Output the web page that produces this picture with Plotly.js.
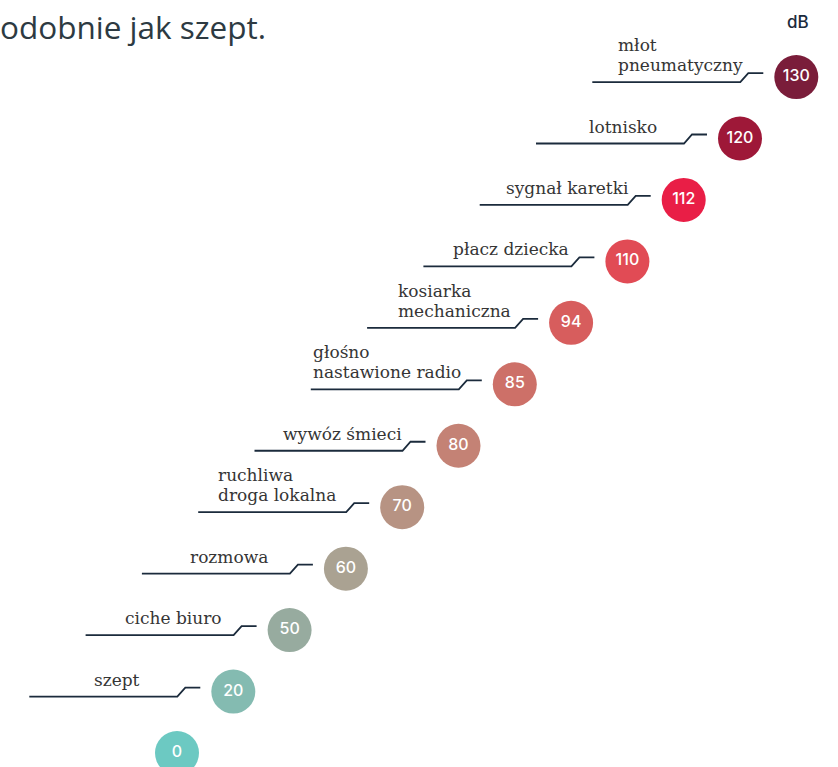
<!DOCTYPE html>
<html>
<head>
<meta charset="utf-8">
<script src="https://cdn.plot.ly/plotly-3.0.1.min.js"></script>
<style>html,body{margin:0;padding:0;background:#fff;}#chart{width:838px;height:767px;}</style>
</head>
<body>
<div id="chart"></div>
<script>
// ---- data ----
const values = [0, 20, 50, 60, 70, 80, 85, 94, 110, 112, 120, 130];
const labels = [
  '', 'szept', 'ciche biuro', 'rozmowa', 'ruchliwa<br>droga lokalna', 'wywóz śmieci',
  'głośno<br>nastawione radio', 'kosiarka<br>mechaniczna', 'płacz dziecka',
  'sygnał karetki', 'lotnisko', 'młot<br>pneumatyczny'
];
const colors = [
  '#6cc9c2', '#84bbb1', '#97ab9f', '#aaa292', '#b79383', '#c48275',
  '#cd7068', '#d75d5d', '#e14b55', '#e91e46', '#9e1838', '#7a1d3a'
];
const unit = 'dB';
const titleText = 'odobnie jak szept.';

// ---- geometry / style ----
const W = 838, H = 767;
const sx = 56.3, sy = 61.45;      // px per step
const x0px = 177, y0px = 753;     // pixel position of first circle
const idx = values.map((v, i) => i);

const labelFont = {family: 'DejaVu Serif', size: 17, color: '#353535'};
const lineGap = 20;
const labelNudgePx = {4: -9, 6: -11};   // small horizontal tweaks for wrapped labels

// leader line offsets (pixels, relative to circle centre; y positive = up)
const L = {xa: -204, xb: -56, xc: -48, xd: -33, ylo: -5, yhi: 4};

const lx = [], ly = [];
idx.forEach(i => {
  if (!labels[i]) return;
  lx.push(i + L.xa / sx, i + L.xb / sx, i + L.xc / sx, i + L.xd / sx, null);
  ly.push(i + L.ylo / sy, i + L.ylo / sy, i + L.yhi / sy, i + L.yhi / sy, null);
});

const traces = [
  {
    type: 'scatter', mode: 'lines', x: lx, y: ly,
    line: {color: '#1b2b3c', width: 1.8}, hoverinfo: 'skip', showlegend: false
  },
  {
    type: 'scatter', mode: 'markers+text', x: idx, y: idx,
    text: values.map(String), textposition: 'middle center',
    textfont: {family: 'Inter, sans-serif', size: 16, color: '#ffffff', weight: 500},
    marker: {size: 44, color: colors, line: {width: 0}},
    hoverinfo: 'skip', showlegend: false, cliponaxis: false
  }
];

// measure text to centre a left-aligned block of lines
const ctx = document.createElement('canvas').getContext('2d');
ctx.font = labelFont.size + 'px "' + labelFont.family + '"';

const annotations = [];
idx.forEach(i => {
  if (!labels[i]) return;
  const lines = labels[i].split('<br>');
  const maxW = Math.max(...lines.map(s => ctx.measureText(s).width));
  const centrePx = (L.xa + L.xd) / 2 + (labelNudgePx[i] || 0);
  const leftPx = centrePx - maxW / 2;
  lines.forEach((s, j) => {
    annotations.push({
      x: i + leftPx / sx, y: i, xref: 'x', yref: 'y',
      text: s, showarrow: false, xanchor: 'left', yanchor: 'bottom',
      align: 'left', yshift: 0 + (lines.length - 1 - j) * lineGap,
      font: labelFont
    });
  });
});
annotations.push({
  x: 798 / W, y: 1 - 22 / H, xref: 'paper', yref: 'paper',
  text: unit, showarrow: false, xanchor: 'center', yanchor: 'middle',
  font: {family: 'Inter, sans-serif', size: 17, color: '#1b2b3c', weight: 500}
});

const layout = {
  width: W, height: H,
  margin: {l: 0, r: 0, t: 0, b: 0},
  paper_bgcolor: '#ffffff', plot_bgcolor: '#ffffff',
  title: {
    text: titleText, x: 0, xref: 'paper', xanchor: 'left',
    y: 1 - 28 / H, yref: 'container', yanchor: 'middle',
    font: {family: 'Open Sans, sans-serif', size: 31.5, color: '#2d3a42'}
  },
  xaxis: {range: [-x0px / sx, (W - x0px) / sx], visible: false, fixedrange: true},
  yaxis: {range: [(y0px - H) / sy, y0px / sy], visible: false, fixedrange: true},
  annotations: annotations,
  showlegend: false
};

Plotly.newPlot('chart', traces, layout, {displayModeBar: false, staticPlot: true});
</script>
</body>
</html>
